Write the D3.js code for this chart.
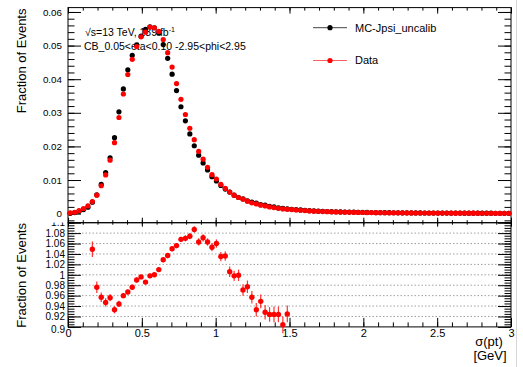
<!DOCTYPE html>
<html><head><meta charset="utf-8">
<script src="https://cdn.jsdelivr.net/npm/d3@7"></script>
<style>body{margin:0;background:#fff;} svg{display:block;font-family:"Liberation Sans",Arial,Helvetica,sans-serif;}</style>
</head><body>
<svg id="c" width="523" height="367"></svg>
<script>
// ---------------- data ----------------
const binWidth = 0.03;
const nBins = 100;
const seriesNames = ["MC-Jpsi_uncalib", "Data"];
const seriesColors = ["#000000", "#ff0000"];

const mcValues = [
  0.0001, 0.0003, 0.0007, 0.0012, 0.0019, 0.0034, 0.0056, 0.0087, 0.0122, 0.0166,
  0.0226, 0.0303, 0.0371, 0.0428, 0.0471, 0.0502, 0.0528, 0.0548, 0.0556, 0.0553,
  0.0537, 0.0503, 0.0462, 0.0415, 0.0366, 0.0318, 0.0276, 0.0237, 0.0202, 0.0174,
  0.0151, 0.0130, 0.0110, 0.0097, 0.0084, 0.0073, 0.0064, 0.0055, 0.0048, 0.0044,
  0.0038, 0.0034, 0.0031, 0.0027, 0.0025, 0.0022, 0.0020, 0.0017, 0.0016, 0.0014,
  0.0013, 0.0012, 0.0011, 0.0010, 0.00088, 0.00080, 0.00074, 0.00068, 0.00063, 0.00059,
  0.00055, 0.00051, 0.00048, 0.00045, 0.00042, 0.00039, 0.00037, 0.00035, 0.00033, 0.00031,
  0.00030, 0.00028, 0.00027, 0.00026, 0.00025, 0.00024, 0.00023, 0.00022, 0.00021, 0.00020,
  0.00019, 0.00019, 0.00018, 0.00017, 0.00017, 0.00016, 0.00016, 0.00015, 0.00015, 0.00014,
  0.00014, 0.00013, 0.00013, 0.00012, 0.00012, 0.00012, 0.00011, 0.00011, 0.00010, 0.00010
];
const dataValues = [
  0.0002, 0.0004, 0.0009, 0.0015, 0.0023, 0.0036, 0.0055, 0.0083, 0.0115, 0.0159,
  0.0211, 0.0286, 0.0356, 0.0414, 0.0459, 0.0497, 0.0526, 0.0540, 0.0555, 0.0553,
  0.0542, 0.0518, 0.0479, 0.0436, 0.0387, 0.0340, 0.0295, 0.0254, 0.0220, 0.0185,
  0.0162, 0.0138, 0.0116, 0.0103, 0.0087, 0.0075, 0.0064, 0.0055, 0.0048, 0.0043,
  0.0037, 0.0032, 0.0029, 0.0025, 0.0023, 0.0020, 0.0018, 0.0016, 0.0014, 0.0013,
  0.0012, 0.0011, 0.0010, 0.0009, 0.0008, 0.00073, 0.00068, 0.00062, 0.00058, 0.00054,
  0.00050, 0.00047, 0.00044, 0.00041, 0.00038, 0.00036, 0.00034, 0.00032, 0.00030, 0.00029,
  0.00027, 0.00026, 0.00025, 0.00024, 0.00023, 0.00022, 0.00021, 0.00020, 0.00019, 0.00019,
  0.00018, 0.00017, 0.00017, 0.00016, 0.00015, 0.00015, 0.00014, 0.00014, 0.00013, 0.00013,
  0.00012, 0.00012, 0.00012, 0.00011, 0.00011, 0.00010, 0.00010, 0.00010, 0.00009, 0.00009
];

// ratio (Data / MC), shown for bins 5..49
const ratioFirstBin = 5;
const ratioValues = [
  1.049, 0.976, 0.957, 0.947, 0.956, 0.933, 0.944, 0.960, 0.967, 0.976,
  0.990, 0.996, 0.986, 0.998, 1.000, 1.010, 1.029, 1.037, 1.050, 1.056,
  1.068, 1.070, 1.074, 1.087, 1.063, 1.071, 1.063, 1.053, 1.060, 1.035,
  1.036, 1.006, 0.998, 0.999, 0.971, 0.977, 0.957, 0.933, 0.949, 0.928,
  0.924, 0.924, 0.924, 0.904, 0.925
];
const ratioErrors = [
  0.015, 0.011, 0.009, 0.008, 0.007, 0.007, 0.006, 0.005, 0.005, 0.005,
  0.005, 0.004, 0.004, 0.004, 0.004, 0.004, 0.004, 0.005, 0.005, 0.005,
  0.005, 0.006, 0.006, 0.006, 0.007, 0.007, 0.007, 0.008, 0.008, 0.009,
  0.009, 0.010, 0.010, 0.011, 0.011, 0.012, 0.012, 0.013, 0.013, 0.014,
  0.014, 0.015, 0.015, 0.016, 0.016
];

const topYTicks = [0, 0.01, 0.02, 0.03, 0.04, 0.05, 0.06];
const ratioYTicks = [0.9, 0.92, 0.94, 0.96, 0.98, 1, 1.02, 1.04, 1.06, 1.08, 1.1];
const gridLevels = [0.92, 0.94, 0.96, 0.98, 1, 1.02, 1.04, 1.06, 1.08];
const xTicks = [0, 0.5, 1, 1.5, 2, 2.5, 3];

// ---------------- layout ----------------
const L = 68, R = 511;
const topT = 7.6, topB = 222.7;
const ratT = 222.7, ratB = 326.9;

const svg = d3.select("#c");
const x = d3.scaleLinear().domain([0, 3]).range([L, R]);
const yTop = d3.scaleLinear().domain([-0.0027, 0.0613]).range([topB, topT]);
const yRat = d3.scaleLinear().domain([0.9, 1.1]).range([ratB, ratT]);
const binCenter = i => (i + 0.5) * binWidth;

const xMinor = d3.range(0, 3.0001, 0.1);
const topMinor = d3.range(-0.002, 0.0613, 0.002);
const ratMinor = d3.range(0.9, 1.1001, 0.005);

function ticks(axis, tx, ty, values, size) {
  const g = svg.append("g").attr("transform", `translate(${tx},${ty})`)
    .call(axis.tickValues(values).tickSize(size).tickSizeOuter(0).tickFormat(""));
  g.select(".domain").remove();
  g.selectAll("line").attr("stroke", "#000").attr("stroke-width", 1);
  return g;
}

// light pad border on right
svg.append("line").attr("x1", 516.5).attr("x2", 516.5).attr("y1", 0).attr("y2", 367)
  .attr("stroke", "#d8d8d8").attr("stroke-width", 1);

// ---------------- ratio gridlines ----------------
svg.append("g").selectAll("line").data(gridLevels).join("line")
  .attr("x1", L).attr("x2", R)
  .attr("y1", d => yRat(d)).attr("y2", d => yRat(d))
  .attr("stroke", "#888").attr("stroke-width", 0.8).attr("stroke-dasharray", "1.5,2");

// ---------------- text annotations (under the markers) ----------------
const t1 = svg.append("text").attr("x", 85).attr("y", 35.5).attr("font-size", 10.5).attr("fill", "#000");
t1.append("tspan").text("√s=13 TeV, 139 fb");
t1.append("tspan").attr("font-size", 7).attr("dy", -4).text("-1");
svg.append("text").attr("x", 84).attr("y", 49.5).attr("font-size", 10.5).attr("fill", "#000")
  .text("CB_0.05<eta<0.10 -2.95<phi<2.95");

// ---------------- top panel ticks ----------------
ticks(d3.axisRight(yTop), L, 0, topYTicks, 13);
ticks(d3.axisRight(yTop), L, 0, topMinor, 6.5);
ticks(d3.axisLeft(yTop), R, 0, topYTicks, 13);
ticks(d3.axisLeft(yTop), R, 0, topMinor, 6.5);
ticks(d3.axisBottom(x), 0, topT, xTicks, 6);
ticks(d3.axisBottom(x), 0, topT, xMinor, 3);
ticks(d3.axisTop(x), 0, topB, xTicks, 5);
ticks(d3.axisTop(x), 0, topB, xMinor, 2.5);

// top panel y labels
const tl = svg.append("g").attr("transform", `translate(${L},0)`)
  .call(d3.axisLeft(yTop).tickValues(topYTicks).tickSize(0).tickPadding(6).tickFormat(d3.format("~g")));
tl.select(".domain").remove();
tl.selectAll("text").attr("font-size", 9.8).attr("font-family", "Liberation Sans, Arial, sans-serif").attr("fill", "#000");

// ---------------- ratio panel ticks ----------------
ticks(d3.axisRight(yRat), L, 0, ratioYTicks, 13);
ticks(d3.axisRight(yRat), L, 0, ratMinor, 6.5);
ticks(d3.axisLeft(yRat), R, 0, ratioYTicks, 13);
ticks(d3.axisLeft(yRat), R, 0, ratMinor, 6.5);
ticks(d3.axisBottom(x), 0, ratT, xTicks, 4);
ticks(d3.axisBottom(x), 0, ratT, xMinor, 2);
ticks(d3.axisTop(x), 0, ratB, xTicks, 9);
ticks(d3.axisTop(x), 0, ratB, xMinor, 4.5);

// ratio y labels, clipped at the pad boundary
svg.append("clipPath").attr("id", "ratClip").append("rect")
  .attr("x", 0).attr("y", 222.5).attr("width", L).attr("height", 150);
const rl = svg.append("g").attr("clip-path", "url(#ratClip)")
  .append("g").attr("transform", `translate(${L},0)`)
  .call(d3.axisLeft(yRat).tickValues(ratioYTicks).tickSize(0).tickPadding(3).tickFormat(d3.format("~g")));
rl.select(".domain").remove();
rl.selectAll("text").attr("font-size", 10).attr("font-family", "Liberation Sans, Arial, sans-serif").attr("fill", "#000")
  .attr("dy", (d) => d === 0.9 ? "0.55em" : "0.32em");

// ratio x labels
const xl = svg.append("g").attr("transform", `translate(0,${ratB})`)
  .call(d3.axisBottom(x).tickValues(xTicks).tickSize(0).tickPadding(2.3).tickFormat(d3.format("~g")));
xl.select(".domain").remove();
xl.selectAll("text").attr("font-size", 11).attr("font-family", "Liberation Sans, Arial, sans-serif").attr("fill", "#000");

// ---------------- frames ----------------
svg.append("rect").attr("x", L).attr("y", topT).attr("width", R - L).attr("height", topB - topT)
  .attr("fill", "none").attr("stroke", "#000").attr("stroke-width", 1);
svg.append("rect").attr("x", L).attr("y", ratT).attr("width", R - L).attr("height", ratB - ratT)
  .attr("fill", "none").attr("stroke", "#000").attr("stroke-width", 1);

// ---------------- top panel markers ----------------
const mr = 2.6;
[mcValues, dataValues].forEach((vals, s) => {
  svg.append("g").selectAll("circle").data(vals).join("circle")
    .attr("cx", (d, i) => x(binCenter(i)))
    .attr("cy", d => yTop(d))
    .attr("r", mr)
    .attr("fill", seriesColors[s]);
});

// ---------------- ratio markers ----------------
const rg = svg.append("g");
rg.selectAll("line").data(ratioValues).join("line")
  .attr("x1", (d, i) => x(binCenter(i + ratioFirstBin)))
  .attr("x2", (d, i) => x(binCenter(i + ratioFirstBin)))
  .attr("y1", (d, i) => yRat(d - ratioErrors[i]))
  .attr("y2", (d, i) => yRat(d + ratioErrors[i]))
  .attr("stroke", "#ff3030").attr("stroke-width", 1.2);
rg.selectAll("circle").data(ratioValues).join("circle")
  .attr("cx", (d, i) => x(binCenter(i + ratioFirstBin)))
  .attr("cy", d => yRat(d))
  .attr("r", 2.7).attr("fill", "#ff0000");

// ---------------- legend ----------------
const legY = [27.7, 60.5];
const legColorsLine = ["#444", "#ff6060"];
seriesNames.forEach((name, s) => {
  const g = svg.append("g");
  g.append("line").attr("x1", 313).attr("x2", 347).attr("y1", legY[s]).attr("y2", legY[s])
    .attr("stroke", legColorsLine[s]).attr("stroke-width", 1);
  g.append("circle").attr("cx", 330).attr("cy", legY[s]).attr("r", mr).attr("fill", seriesColors[s]);
  g.append("text").attr("x", 355).attr("y", legY[s] + 3.8).attr("font-size", 11).attr("fill", "#000").text(name);
});

// ---------------- axis titles ----------------
svg.append("text").attr("transform", "translate(26,8.5) rotate(-90)").attr("text-anchor", "end")
  .attr("font-size", 13).attr("fill", "#000").text("Fraction of Events");
svg.append("text").attr("transform", "translate(26,223) rotate(-90)").attr("text-anchor", "end")
  .attr("font-size", 13).attr("fill", "#000").text("Fraction of Events");
svg.append("text").attr("x", 489).attr("y", 346).attr("text-anchor", "middle")
  .attr("font-size", 13).attr("fill", "#000").text("σ(pt)");
svg.append("text").attr("x", 490).attr("y", 360).attr("text-anchor", "middle")
  .attr("font-size", 13).attr("fill", "#000").text("[GeV]");
</script>
</body></html>
